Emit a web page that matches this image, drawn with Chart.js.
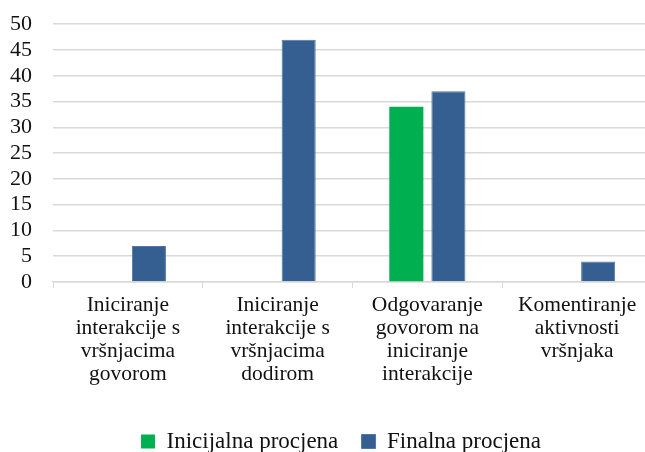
<!DOCTYPE html>
<html>
<head>
<meta charset="utf-8">
<script src="https://cdn.jsdelivr.net/npm/chart.js@4"></script>
<style>
  html, body { margin: 0; padding: 0; background: #fff; overflow: hidden; }
  #wrap { width: 652px; height: 462px; margin-top: -10px; position: relative; }
</style>
</head>
<body>
<div id="wrap"><canvas id="chart"></canvas></div>
<script>
const categories = [
    ['Iniciranje', 'interakcije s', 'vršnjacima', 'govorom'],
    ['Iniciranje', 'interakcije s', 'vršnjacima', 'dodirom'],
    ['Odgovaranje', 'govorom na', 'iniciranje', 'interakcije'],
    ['Komentiranje', 'aktivnosti', 'vršnjaka']
];
const inicijalna = [0, 0, 34, 0];
const finalna = [7, 47, 37, 4];
const seriesNames = ['Inicijalna procjena', 'Finalna procjena'];
const yTicks = [0, 5, 10, 15, 20, 25, 30, 35, 40, 45, 50];

const serif = "'Liberation Serif', 'DejaVu Serif', serif";

// nudge the legend row a bit to the right, like the original
const legendShift = {
    id: 'legendShift',
    afterLayout(chart) {
        if (chart.legend) {
            chart.legend.left += 15;
            chart.legend.right += 15;
        }
    }
};

document.addEventListener('DOMContentLoaded', function() {
    const ctx = document.getElementById('chart').getContext('2d');
    new Chart(ctx, {
        type: 'bar',
        data: {
            labels: categories,
            datasets: [{
                label: seriesNames[0],
                data: inicijalna,
                backgroundColor: '#00b050',
                categoryPercentage: 0.562,
                barPercentage: 0.81
            }, {
                label: seriesNames[1],
                data: finalna,
                backgroundColor: '#355f91',
                borderColor: '#4f76a6',
                borderWidth: 1,
                categoryPercentage: 0.562,
                barPercentage: 0.81
            }]
        },
        options: {
            responsive: true,
            maintainAspectRatio: false,
            animation: false,
            layout: { padding: { top: 0, right: 0, left: 0, bottom: -11 } },
            plugins: {
                tooltip: { enabled: false },
                legend: {
                    position: 'bottom',
                    labels: {
                        font: { family: serif, size: 23 },
                        color: '#111',
                        boxWidth: 14,
                        boxHeight: 14,
                        padding: 6,
                        generateLabels: function(chart) {
                            const items = Chart.defaults.plugins.legend.labels.generateLabels(chart);
                            items[0].text = items[0].text + '   ';
                            return items;
                        }
                    }
                }
            },
            scales: {
                x: {
                    afterFit: function(scale) { scale.height = 142; },
                    grid: {
                        offset: true,
                        drawOnChartArea: false,
                        drawTicks: true,
                        tickLength: 6,
                        color: '#d9d9d9'
                    },
                    border: { color: '#d9d9d9', width: 1.5 },
                    ticks: {
                        font: { family: serif, size: 21.5, lineHeight: 1.07 },
                        color: '#111',
                        maxRotation: 0,
                        autoSkip: false,
                        padding: 6
                    }
                },
                y: {
                    min: 0,
                    max: 50,
                    afterBuildTicks: function(axis) {
                        axis.ticks = yTicks.map(v => ({ value: v }));
                    },
                    afterFit: function(scale) { scale.width = 53; },
                    grid: {
                        color: '#d9d9d9',
                        lineWidth: 1.5,
                        drawTicks: false
                    },
                    border: { display: false },
                    ticks: {
                        font: { family: serif, size: 22 },
                        color: '#111',
                        autoSkip: false,
                        padding: 21
                    }
                }
            }
        },
        plugins: [legendShift]
    });
});
</script>
</body>
</html>
